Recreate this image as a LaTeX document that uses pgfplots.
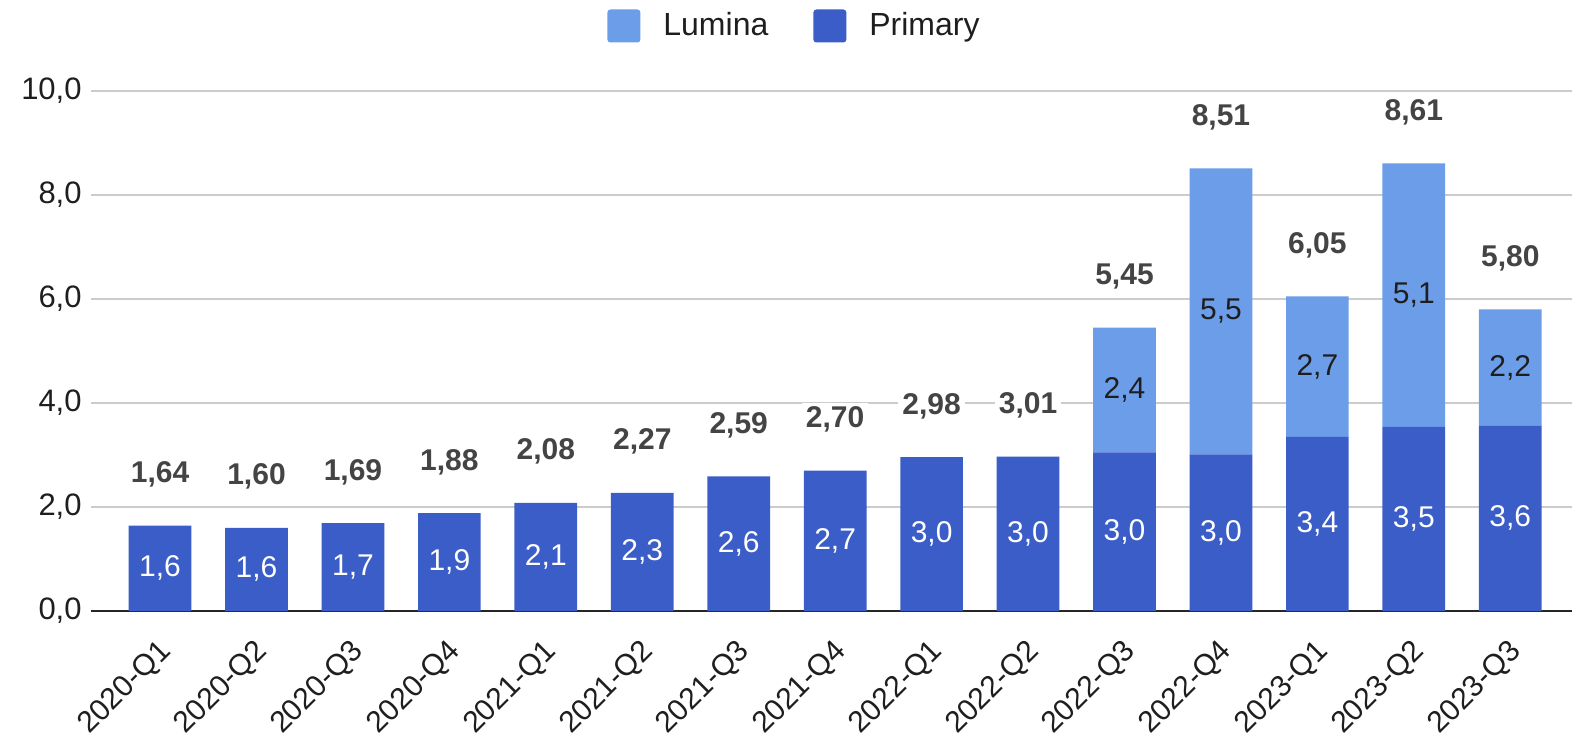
\documentclass[border=0pt]{standalone}
\usepackage{pgfplots}
\pgfplotsset{compat=1.18}
\usepackage{fontspec}
\setmainfont{Liberation Sans}
\definecolor{prim}{RGB}{58,93,200}
\definecolor{lum}{RGB}{108,157,233}
\definecolor{totc}{RGB}{68,68,68}
\definecolor{txtc}{RGB}{30,30,30}
\definecolor{gridc}{RGB}{204,204,204}
\pgfplotsset{
  common/.style={
    at={(0,0)}, anchor=south west,
    scale only axis, width=740.5pt, height=260pt,
    bar width=0.65,
    xmin=-0.716, xmax=14.64, ymin=0, ymax=10,
    clip=false,
  }
}
\begin{document}
\fontsize{15}{18}\selectfont
\begin{tikzpicture}
\useasboundingbox (-45.5pt,-64pt) rectangle (747pt,305.5pt);
\begin{axis}[
  common,
  ybar stacked,
  xtick={0,...,14},
  xticklabels={2020-Q1,2020-Q2,2020-Q3,2020-Q4,2021-Q1,2021-Q2,2021-Q3,2021-Q4,2022-Q1,2022-Q2,2022-Q3,2022-Q4,2023-Q1,2023-Q2,2023-Q3},
  xticklabel style={xshift=-1.5pt, yshift=-13pt, rotate=45, anchor=north east, inner sep=0pt, text=txtc, font=\fontsize{15}{18}\selectfont},
  ytick={0,2,...,10},
  yticklabel style={anchor=east, inner sep=0pt, xshift=-4.5pt, text=txtc, font=\fontsize{15.5}{18}\selectfont},
  /pgf/number format/fixed,
  /pgf/number format/fixed zerofill,
  /pgf/number format/precision=1,
  /pgf/number format/use comma,
  /pgf/number format/assume math mode=true,
  ymajorgrids, grid style={color=gridc, line width=0.8pt},
  axis line style={draw=none}, major tick length=0pt,
  extra y ticks={0}, extra y tick labels={},
  extra y tick style={grid style={color=black!85, line width=1.2pt}},
  legend style={at={(0.5,1)}, anchor=center, xshift=-19pt, yshift=32.5pt, draw=none, fill=none,
    legend columns=-1, font=\fontsize{16}{19}\selectfont, text=txtc,
    nodes={inner sep=0pt},
    /tikz/every odd column/.append style={column sep=11.5pt},
    /tikz/every even column/.append style={column sep=22.5pt}},
  legend image code/.code={\fill[#1, rounded corners=1.5pt] (0pt,-8.25pt) rectangle (16.5pt,8.25pt);},
]
\addlegendimage{fill=lum, draw=none}
\addlegendentry{Lumina}
\addlegendimage{fill=prim, draw=none}
\addlegendentry{Primary}
\addplot[fill=prim, draw=none, point meta=explicit symbolic,
  nodes near coords,
  nodes near coords style={anchor=center, inner sep=0pt, text=white, font=\fontsize{15}{18}\selectfont}]
coordinates {
(0,1.64) [1,6] (1,1.60) [1,6] (2,1.69) [1,7] (3,1.88) [1,9] (4,2.08) [2,1]
(5,2.27) [2,3] (6,2.59) [2,6] (7,2.70) [2,7] (8,2.96) [3,0] (9,2.97) [3,0]
(10,3.05) [3,0] (11,3.01) [3,0] (12,3.35) [3,4] (13,3.54) [3,5] (14,3.56) [3,6]
};
\addplot[fill=lum, draw=none, point meta=explicit symbolic,
  nodes near coords,
  nodes near coords style={anchor=center, inner sep=0pt, text=txtc, font=\fontsize{15}{18}\selectfont}]
coordinates {
(0,0) [\relax] (1,0) [\relax] (2,0) [\relax] (3,0) [\relax] (4,0) [\relax]
(5,0) [\relax] (6,0) [\relax] (7,0) [\relax] (8,0) [\relax] (9,0) [\relax]
(10,2.40) [2,4] (11,5.50) [5,5] (12,2.70) [2,7] (13,5.07) [5,1] (14,2.24) [2,2]
};
\end{axis}
\begin{axis}[
  common,
  ybar, hide axis,
]
\addplot[fill=none, draw=none, point meta=explicit symbolic,
  nodes near coords,
  nodes near coords style={anchor=base, inner sep=2pt, fill=white, yshift=21.5pt, text=totc, font=\bfseries\fontsize{15}{18}\selectfont}]
coordinates {
(0,1.64) [1,64] (1,1.60) [1,60] (2,1.69) [1,69] (3,1.88) [1,88] (4,2.08) [2,08]
(5,2.27) [2,27] (6,2.59) [2,59] (7,2.70) [2,70] (8,2.96) [2,98] (9,2.97) [3,01]
(10,5.45) [5,45] (11,8.51) [8,51] (12,6.05) [6,05] (13,8.61) [8,61] (14,5.80) [5,80]
};
\end{axis}
\end{tikzpicture}
\end{document}
